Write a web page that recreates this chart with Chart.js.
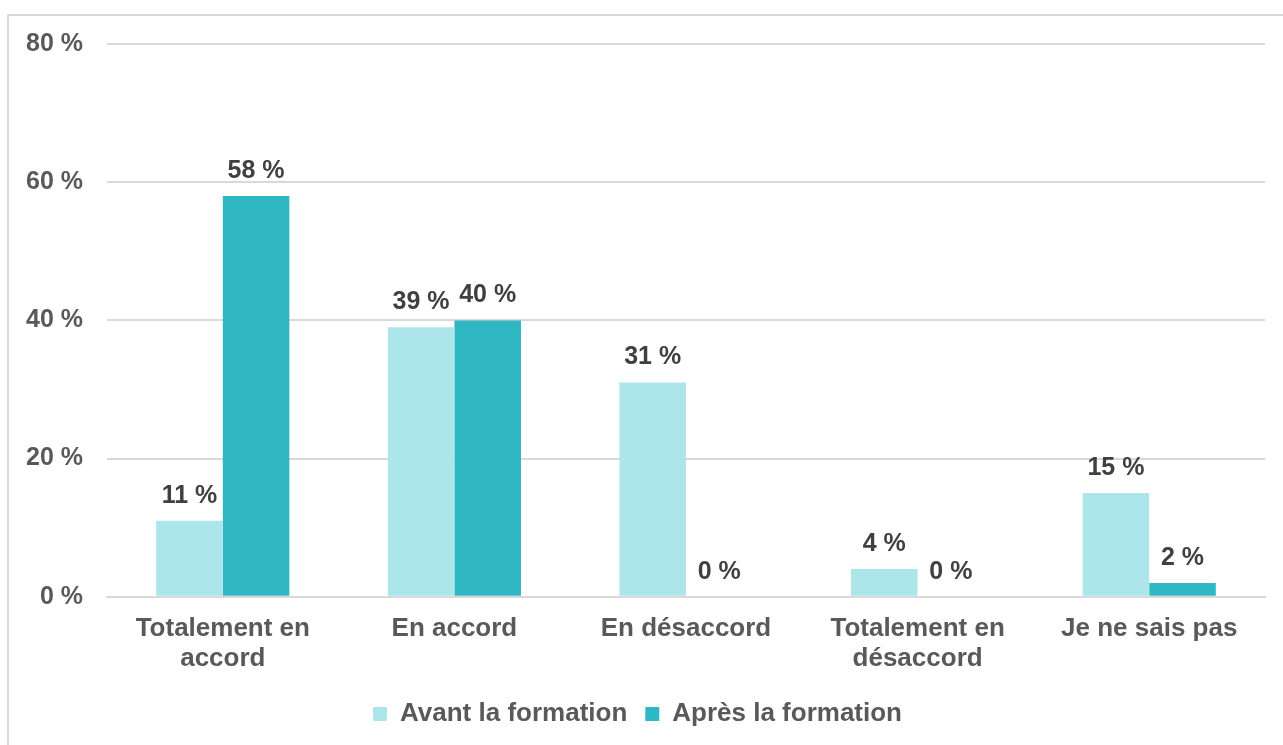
<!DOCTYPE html>
<html>
<head>
<meta charset="utf-8">
<script src="https://cdn.jsdelivr.net/npm/chart.js@4.4.0/dist/chart.umd.min.js"></script>
<style>
  body { margin: 0; background: #fff; }
  #frame {
    position: absolute; left: 7px; top: 14px;
    width: 1280px; height: 740px;
    border: 2px solid #d9d9d9; box-sizing: border-box;
  }
  #wrap { position: absolute; left: 1px; top: 1px; width: 1275px; height: 730px; }
</style>
</head>
<body>
<div id="frame"><div id="wrap"><canvas id="chart"></canvas></div></div>
<script>
const categories = [['Totalement en', 'accord'], 'En accord', 'En désaccord', ['Totalement en', 'désaccord'], 'Je ne sais pas'];
const avant = [11, 39, 31, 4, 15];
const apres = [58, 40, 0, 0, 2];
const seriesNames = ['Avant la formation', 'Après la formation'];

const FONT = "'Liberation Sans', Arial, sans-serif";

// draws the "xx %" value above each bar
const valueLabels = {
    id: 'valueLabels',
    afterDatasetsDraw(chart) {
        const ctx = chart.ctx;
        ctx.save();
        ctx.font = 'bold 25px ' + FONT;
        ctx.fillStyle = '#404040';
        ctx.textAlign = 'center';
        ctx.textBaseline = 'middle';
        chart.data.datasets.forEach((ds, i) => {
            chart.getDatasetMeta(i).data.forEach((bar, j) => {
                ctx.fillText(ds.data[j] + ' %', bar.x, bar.y - 25);
            });
        });
        ctx.restore();
    }
};

new Chart(document.getElementById('chart'), {
    type: 'bar',
    data: {
        labels: categories,
        datasets: [
            { label: seriesNames[0], data: avant, backgroundColor: '#ade6ea' },
            { label: seriesNames[1], data: apres, backgroundColor: '#2fb8c2' }
        ]
    },
    options: {
        responsive: true,
        maintainAspectRatio: false,
        animation: false,
        barPercentage: 1,
        categoryPercentage: 0.575,
        layout: { padding: { top: 27, right: 20, left: 0, bottom: 10 } },
        plugins: {
            tooltip: { enabled: false },
            legend: {
                position: 'bottom',
                labels: {
                    font: { family: FONT, size: 26, weight: 'bold' },
                    color: '#595959',
                    boxWidth: 14, boxHeight: 14,
                    padding: 18
                }
            }
        },
        scales: {
            x: {
                grid: { display: false },
                border: { color: '#d9d9d9', width: 2 },
                ticks: {
                    font: { family: FONT, size: 26, weight: 'bold', lineHeight: 1.12 },
                    color: '#595959',
                    maxRotation: 0,
                    autoSkip: false,
                    padding: 10
                }
            },
            y: {
                min: 0, max: 80,
                afterFit: s => { s.width = 97; s.paddingTop = 0; s.paddingBottom = 0; },
                grid: { color: '#d9d9d9', lineWidth: 2, drawTicks: false },
                border: { display: false },
                ticks: {
                    stepSize: 20,
                    padding: 24,
                    font: { family: FONT, size: 25, weight: 'bold' },
                    color: '#595959',
                    callback: v => v + ' %'
                }
            }
        }
    },
    plugins: [valueLabels]
});
</script>
</body>
</html>
